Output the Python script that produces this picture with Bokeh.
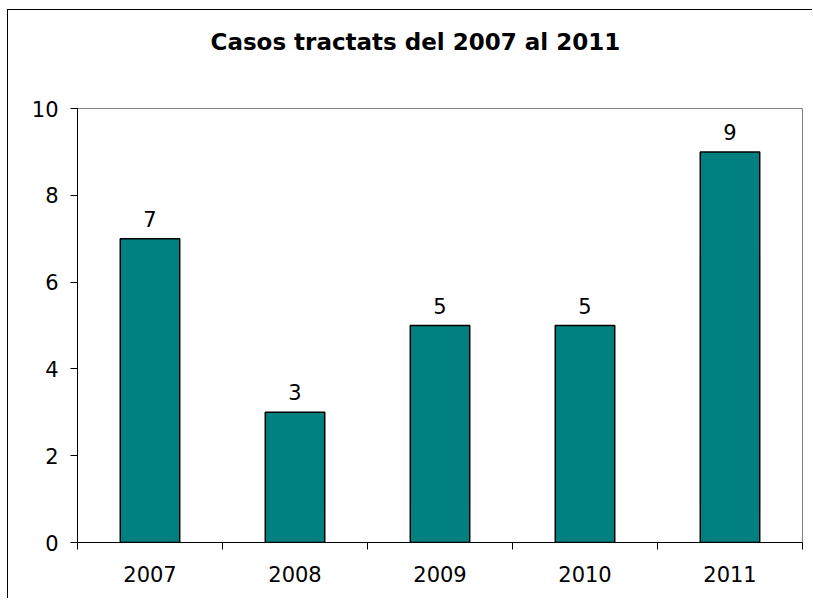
from bokeh.plotting import figure
from bokeh.models import Range1d, FixedTicker, ColumnDataSource, LabelSet, Title
from bokeh.core.properties import value
from bokeh.embed import file_html
from bokeh.resources import INLINE

title_text = "Casos tractats del 2007 al 2011"
years = ["2007", "2008", "2009", "2010", "2011"]
cases = [7, 3, 5, 5, 9]
y_ticks = [0, 2, 4, 6, 8, 10]

FONT = "DejaVu Sans"
centers = [i + 0.5 for i in range(len(years))]
bounds = list(range(len(years) + 1))

p = figure(width=805, height=589, output_backend="svg", toolbar_location=None,
           x_range=Range1d(0, len(years)), y_range=Range1d(0, 10),
           min_border_left=69, min_border_right=11, min_border_top=98, min_border_bottom=57)

p.styles = {"box-shadow": "-1px -1px 0 0 #000000",
            "margin-top": "10px", "margin-left": "8px"}

src = ColumnDataSource(dict(x=centers, top=cases, label=[str(v) for v in cases]))
p.vbar(x="x", top="top", width=0.41, source=src, fill_color="#008080",
       line_color="#000000", line_width=1.5)

labels = LabelSet(x="x", y="top", text="label", source=src, text_align="center",
                  text_baseline="bottom", y_offset=12, text_font=value(FONT),
                  text_font_size="21px", text_color="#000000")
p.add_layout(labels)

# empty spacer panel between the frame and the title
spacer = Title(text=" ", text_font=FONT, text_font_size="20px", standoff=23)
p.add_layout(spacer, "above")
main_title = Title(text=title_text, text_font=FONT, text_font_style="bold",
                   text_font_size="23px", text_color="#000000",
                   align="left", offset=133, standoff=10)
p.add_layout(main_title, "above")

p.xgrid.visible = False
p.ygrid.visible = False
p.outline_line_color = "#808080"
p.outline_line_width = 1
p.background_fill_color = "white"
p.border_fill_color = "white"

xa = p.xaxis[0]
xa.ticker = FixedTicker(ticks=centers, minor_ticks=bounds)
xa.major_label_overrides = {c: y for c, y in zip(centers, years)}
xa.major_tick_out = 0
xa.major_tick_in = 0
xa.minor_tick_out = 7
xa.minor_tick_in = 0
xa.minor_tick_line_color = "#000000"
xa.axis_line_color = "#000000"
xa.major_label_text_font = FONT
xa.major_label_text_font_size = "21px"
xa.major_label_text_color = "#000000"
xa.major_label_standoff = 16

ya = p.yaxis[0]
ya.ticker = FixedTicker(ticks=y_ticks)
ya.major_tick_out = 7
ya.major_tick_in = 0
ya.minor_tick_out = 0
ya.minor_tick_in = 0
ya.axis_line_color = "#000000"
ya.major_tick_line_color = "#000000"
ya.major_label_text_font = FONT
ya.major_label_text_font_size = "21px"
ya.major_label_text_color = "#000000"
ya.major_label_standoff = 12

open("out.html", "w").write(file_html(p, INLINE))
